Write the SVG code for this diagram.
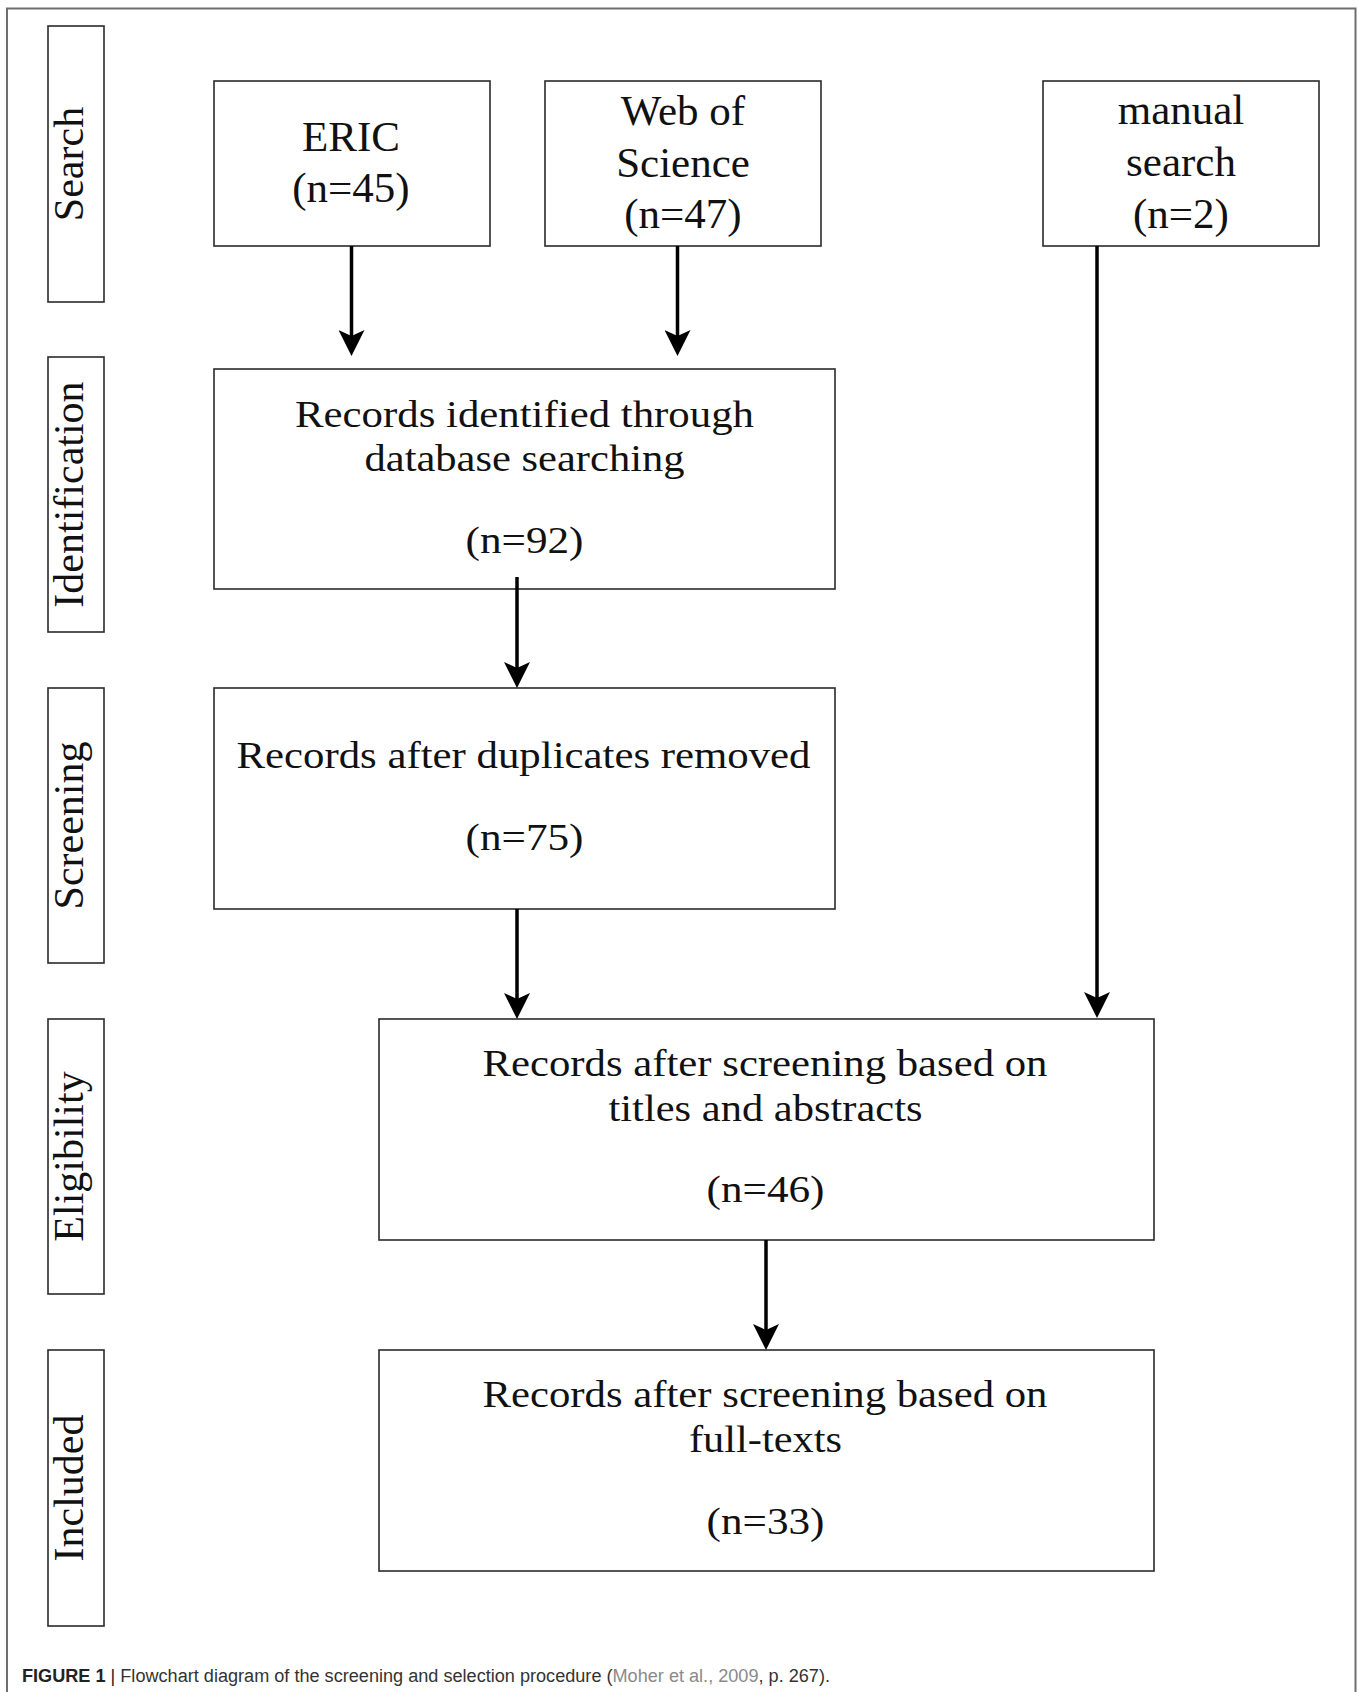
<svg xmlns="http://www.w3.org/2000/svg" width="1358" height="1692" viewBox="0 0 1358 1692">
  <style>
    .box { fill: #ffffff; stroke: #2a2a2a; stroke-width: 1.6; }
    .lab { fill: #ffffff; stroke: #2a2a2a; stroke-width: 1.6; }
    .t { font-family: "Liberation Serif", "Times New Roman", serif; fill: #111111; text-anchor: middle; }
    .s { font-size: 43px; }
    .m { font-size: 37px; }
    .v { font-size: 42px; }
    .conn { stroke: #000000; stroke-width: 3.5; fill: none; marker-end: url(#arrow); }
    .frame { fill: none; stroke: #6e6e6e; stroke-width: 2; }
    .cap { font-family: "Liberation Sans", Arial, sans-serif; font-size: 18px; fill: #333333; }
  </style>
  <defs>
    <marker id="arrow" markerUnits="userSpaceOnUse" viewBox="0 0 26 26" markerWidth="26" markerHeight="26" refX="18" refY="13" orient="auto">
      <path d="M0,0 L26,13 L0,26 L6,13 Z" fill="#000000"/>
    </marker>
  </defs>
  <rect x="0" y="0" width="1358" height="1692" fill="#ffffff"/>
  <path class="frame" d="M7,1692 V8.5 H1355.5 V1692"/>

  <g id="label-search">
    <rect class="lab" x="48" y="26" width="56" height="276"/>
    <text class="t v" transform="translate(83,164) rotate(-90)">Search</text>
  </g>
  <g id="label-identification">
    <rect class="lab" x="48" y="357" width="56" height="275"/>
    <text class="t v" transform="translate(83,494.5) rotate(-90)">Identification</text>
  </g>
  <g id="label-screening">
    <rect class="lab" x="48" y="688" width="56" height="275"/>
    <text class="t v" transform="translate(83,825.5) rotate(-90)">Screening</text>
  </g>
  <g id="label-eligibility">
    <rect class="lab" x="48" y="1019" width="56" height="275"/>
    <text class="t v" transform="translate(83,1156.5) rotate(-90)">Eligibility</text>
  </g>
  <g id="label-included">
    <rect class="lab" x="48" y="1350" width="56" height="276"/>
    <text class="t v" transform="translate(83,1488) rotate(-90)">Included</text>
  </g>

  <g id="node-eric">
    <rect class="box" x="214" y="81" width="276" height="165"/>
    <text class="t s" x="351" y="151">ERIC</text>
    <text class="t s" x="351" y="202">(n=45)</text>
  </g>
  <g id="node-wos">
    <rect class="box" x="545" y="81" width="276" height="165"/>
    <text class="t s" x="683" y="125">Web of</text>
    <text class="t s" x="683" y="177">Science</text>
    <text class="t s" x="683" y="228">(n=47)</text>
  </g>
  <g id="node-manual">
    <rect class="box" x="1043" y="81" width="276" height="165"/>
    <text class="t s" x="1181" y="124">manual</text>
    <text class="t s" x="1181" y="176">search</text>
    <text class="t s" x="1181" y="228">(n=2)</text>
  </g>
  <g id="node-identified">
    <rect class="box" x="214" y="369" width="621" height="220"/>
    <text class="t m" x="524.5" y="427" textLength="459" lengthAdjust="spacingAndGlyphs">Records identified through</text>
    <text class="t m" x="524.5" y="471" textLength="320" lengthAdjust="spacingAndGlyphs">database searching</text>
    <text class="t m" x="524.5" y="553" textLength="118" lengthAdjust="spacingAndGlyphs">(n=92)</text>
  </g>
  <g id="node-screened">
    <rect class="box" x="214" y="688" width="621" height="221"/>
    <text class="t m" x="523.5" y="768" textLength="574" lengthAdjust="spacingAndGlyphs">Records after duplicates removed</text>
    <text class="t m" x="524.5" y="850" textLength="118" lengthAdjust="spacingAndGlyphs">(n=75)</text>
  </g>
  <g id="node-eligible">
    <rect class="box" x="379" y="1019" width="775" height="221"/>
    <text class="t m" x="765" y="1076" textLength="565" lengthAdjust="spacingAndGlyphs">Records after screening based on</text>
    <text class="t m" x="765.5" y="1121" textLength="314" lengthAdjust="spacingAndGlyphs">titles and abstracts</text>
    <text class="t m" x="765.5" y="1202" textLength="118" lengthAdjust="spacingAndGlyphs">(n=46)</text>
  </g>
  <g id="node-included">
    <rect class="box" x="379" y="1350" width="775" height="221"/>
    <text class="t m" x="765" y="1407" textLength="565" lengthAdjust="spacingAndGlyphs">Records after screening based on</text>
    <text class="t m" x="765.5" y="1452" textLength="153" lengthAdjust="spacingAndGlyphs">full-texts</text>
    <text class="t m" x="765.5" y="1534" textLength="118" lengthAdjust="spacingAndGlyphs">(n=33)</text>
  </g>

  <g id="connectors">
    <line class="conn" x1="351.5" y1="246" x2="351.5" y2="348"/>
    <line class="conn" x1="677.5" y1="246" x2="677.5" y2="348"/>
    <line class="conn" x1="1097" y1="246" x2="1097" y2="1010"/>
    <line class="conn" x1="517" y1="577" x2="517" y2="680"/>
    <line class="conn" x1="517" y1="909" x2="517" y2="1011"/>
    <line class="conn" x1="766" y1="1240" x2="766" y2="1342"/>
  </g>

  <g id="caption">
    <text class="cap" x="22" y="1682" textLength="808" lengthAdjust="spacingAndGlyphs"><tspan font-weight="bold" fill="#222222">FIGURE 1</tspan><tspan fill="#222222"> | </tspan><tspan>Flowchart diagram of the screening and selection procedure (</tspan><tspan fill="#8a8a8a">Moher et al., 2009</tspan><tspan>, p. 267).</tspan></text>
  </g>
</svg>
